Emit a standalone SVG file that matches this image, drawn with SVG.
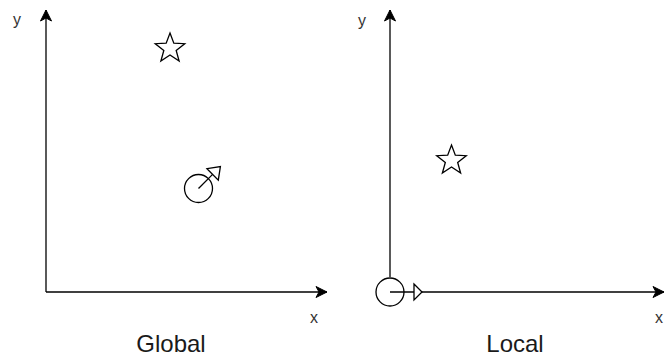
<svg xmlns="http://www.w3.org/2000/svg" xmlns:xlink="http://www.w3.org/1999/xlink" width="665" height="358" viewBox="0 0 665 358">
  <style>
    .axis { fill: none; stroke: #000; stroke-width: 1.3; }
    .shape { fill: none; stroke: #000; stroke-width: 1.3; }
    .open { fill: #fff; stroke: #000; stroke-width: 1.3; stroke-linejoin: miter; }
    .star { fill: #fff; stroke: #000; stroke-width: 1.3; stroke-linejoin: miter; }
    .axlabel { font-family: "Liberation Sans", Arial, sans-serif; font-size: 16px; fill: #333; }
    .title { font-family: "Liberation Sans", Arial, sans-serif; font-size: 24px; fill: #1a1a1a; text-anchor: middle; }
  </style>
  <defs>
    <marker id="arrow" markerUnits="userSpaceOnUse" markerWidth="14" markerHeight="14" viewBox="-12 -7 14 14" refX="0" refY="0" orient="auto">
      <path d="M0,0 L-11,-5.5 L-8,0 L-11,5.5 Z" fill="#000" stroke="#000" stroke-width="1"/>
    </marker>
    <polygon id="starShape" points="0,-15.5 3.82,-5.26 14.74,-4.79 6.18,2.01 9.11,12.54 0,6.5 -9.11,12.54 -6.18,2.01 -14.74,-4.79 -3.82,-5.26"/>
  </defs>

  <g id="connectors">
    <line class="axis" x1="46" y1="292" x2="46" y2="10" marker-end="url(#arrow)"/>
    <line class="axis" x1="46" y1="292" x2="327" y2="292" marker-end="url(#arrow)"/>
    <line class="axis" x1="390" y1="277" x2="390" y2="10" marker-end="url(#arrow)"/>
    <line class="axis" x1="390" y1="292" x2="664" y2="292" marker-end="url(#arrow)"/>
  </g>

  <g id="global-star">
    <use xlink:href="#starShape" class="star" x="170" y="48.5"/>
  </g>

  <g id="global-object">
    <circle class="shape" cx="198.5" cy="188.5" r="14"/>
    <line class="shape" x1="198.5" y1="188.5" x2="212.6" y2="174.4"/>
    <polygon class="open" points="207,168.7 218.3,180.1 220.4,166.6"/>
  </g>

  <g id="local-star">
    <use xlink:href="#starShape" class="star" x="451.5" y="160.5"/>
  </g>

  <g id="local-object">
    <circle class="shape" cx="390" cy="292" r="14"/>
    <polygon class="open" points="414,284 422,292 414,300"/>
  </g>

  <g id="labels">
    <text class="axlabel" x="13" y="25">y</text>
    <text class="axlabel" x="310" y="323">x</text>
    <text class="axlabel" x="358" y="26">y</text>
    <text class="axlabel" x="655" y="323">x</text>
    <text class="title" x="171" y="352">Global</text>
    <text class="title" x="515" y="352">Local</text>
  </g>
</svg>
